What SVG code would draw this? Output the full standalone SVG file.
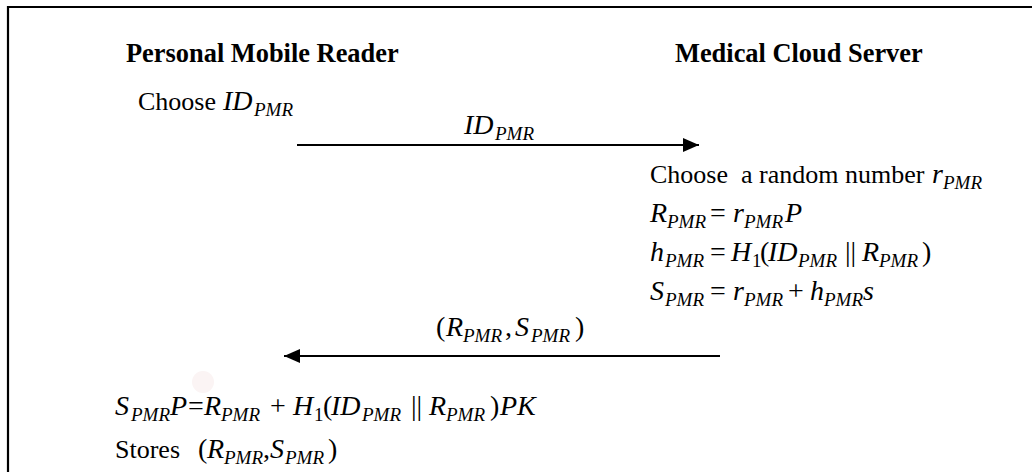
<svg xmlns="http://www.w3.org/2000/svg" width="1032" height="472" viewBox="0 0 1032 472">
  <style>
    text { font-family: "Liberation Serif", "Times New Roman", serif; fill: #000; }
    .h { font-size: 26.4px; font-weight: bold; }
    .t { font-size: 26px; }
    .m { font-style: italic; font-size: 28px; }
    .s { font-style: italic; font-size: 19px; }
    .n { font-size: 28px; }
    .d { font-size: 19px; }
    .wire { stroke: #000; stroke-width: 2; fill: none; }
  </style>
  <defs>
    <marker id="head" markerUnits="userSpaceOnUse" markerWidth="18" markerHeight="16" refX="16" refY="8" orient="auto">
      <path d="M0,1 L16,8 L0,15 Z" fill="#000"/>
    </marker>
  </defs>

  <rect width="1032" height="472" fill="#fff"/>
  <!-- frame: left and top edges -->
  <polyline points="8,472 8,7 1032,7" fill="none" stroke="#000" stroke-width="2.2"/>
  <!-- faint spot -->
  <circle cx="203" cy="382" r="11" fill="#fbf4f4"/>

  <g id="pmr">
    <text class="h" x="126" y="62">Personal Mobile Reader</text>
    <text x="138" y="110"><tspan class="t">Choose</tspan><tspan class="m" x="223">ID</tspan><tspan class="s" x="254" y="116">PMR</tspan></text>
    <text y="415">
      <tspan class="m" x="115">S</tspan><tspan class="s" x="131" y="421">PMR</tspan>
      <tspan class="m" x="170" y="415">P</tspan><tspan class="n" x="188">=</tspan>
      <tspan class="m" x="204">R</tspan><tspan class="s" x="221" y="421">PMR</tspan>
      <tspan class="n" x="270" y="415">+</tspan>
      <tspan class="m" x="293">H</tspan><tspan class="d" x="314" y="421">1</tspan>
      <tspan class="n" x="323" y="415">(</tspan><tspan class="m" x="331">ID</tspan><tspan class="s" x="362" y="421">PMR</tspan>
      <tspan class="n" x="411" y="415">||</tspan>
      <tspan class="m" x="429">R</tspan><tspan class="s" x="446" y="421">PMR</tspan>
      <tspan class="n" x="490" y="415">)</tspan><tspan class="m" x="500">PK</tspan>
    </text>
    <text y="458">
      <tspan class="t" x="115">Stores</tspan>
      <tspan class="n" x="198">(</tspan><tspan class="m" x="207">R</tspan><tspan class="s" x="224" y="464">PMR</tspan>
      <tspan class="n" x="263" y="458">,</tspan><tspan class="m" x="270">S</tspan><tspan class="s" x="285" y="464">PMR</tspan>
      <tspan class="n" x="328" y="458">)</tspan>
    </text>
  </g>

  <g id="mcs">
    <text class="h" x="675" y="62">Medical Cloud Server</text>
    <text y="183"><tspan class="t" x="650" xml:space="preserve">Choose  a random number</tspan><tspan class="m" x="932">r</tspan><tspan class="s" x="943" y="189">PMR</tspan></text>
    <text y="222">
      <tspan class="m" x="650">R</tspan><tspan class="s" x="667" y="228">PMR</tspan>
      <tspan class="n" x="710" y="222">=</tspan>
      <tspan class="m" x="733">r</tspan><tspan class="s" x="744" y="228">PMR</tspan>
      <tspan class="m" x="785" y="222">P</tspan>
    </text>
    <text y="261">
      <tspan class="m" x="650">h</tspan><tspan class="s" x="665" y="267">PMR</tspan>
      <tspan class="n" x="710" y="261">=</tspan>
      <tspan class="m" x="731">H</tspan><tspan class="d" x="752" y="267">1</tspan>
      <tspan class="n" x="760" y="261">(</tspan><tspan class="m" x="768">ID</tspan><tspan class="s" x="798" y="267">PMR</tspan>
      <tspan class="n" x="845" y="261">||</tspan>
      <tspan class="m" x="862">R</tspan><tspan class="s" x="879" y="267">PMR</tspan>
      <tspan class="n" x="922" y="261">)</tspan>
    </text>
    <text y="300">
      <tspan class="m" x="650">S</tspan><tspan class="s" x="665" y="306">PMR</tspan>
      <tspan class="n" x="710" y="300">=</tspan>
      <tspan class="m" x="733">r</tspan><tspan class="s" x="744" y="306">PMR</tspan>
      <tspan class="n" x="788" y="300">+</tspan>
      <tspan class="m" x="810">h</tspan><tspan class="s" x="824" y="306">PMR</tspan>
      <tspan class="m" x="863" y="300">s</tspan>
    </text>
  </g>

  <g id="connectors">
    <line class="wire" x1="297" y1="145" x2="699" y2="145" marker-end="url(#head)"/>
    <text y="134"><tspan class="m" x="464">ID</tspan><tspan class="s" x="495" y="140">PMR</tspan></text>
    <line class="wire" x1="720" y1="356" x2="284" y2="356" marker-end="url(#head)"/>
    <text y="336">
      <tspan class="n" x="436">(</tspan><tspan class="m" x="446">R</tspan><tspan class="s" x="463" y="342">PMR</tspan>
      <tspan class="n" x="505" y="336">,</tspan><tspan class="m" x="515">S</tspan><tspan class="s" x="531" y="342">PMR</tspan>
      <tspan class="n" x="575" y="336">)</tspan>
    </text>
  </g>
</svg>
